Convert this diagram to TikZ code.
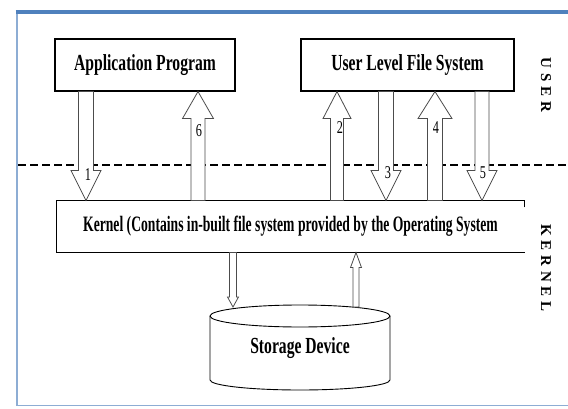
\documentclass[tikz,border=0pt]{standalone}
\usepackage{fontspec}
\setmainfont{Liberation Serif}
\newfontfamily\narrowfont[FakeStretch=0.68]{Liberation Serif}
\newfontfamily\kernfont[FakeStretch=0.62]{Liberation Serif}
\newfontfamily\spacedfont[LetterSpace=32]{Liberation Serif}
\usetikzlibrary{calc}
\definecolor{frameblue}{RGB}{79,129,189}

\begin{document}
\begin{tikzpicture}[
  x=1pt, y=1pt,
  boxline/.style={draw, line width=1.1pt},
  box/.style={boxline, rectangle, minimum height=52pt, font=\narrowfont\bfseries\fontsize{23}{26}\selectfont},
  arrline/.style={draw=black!70, line width=0.8pt, fill=white},
  fatdown/.style n args={3}{arrline, to path={let \p1=(\tikztostart), \p2=(\tikztotarget) in
    (\x1-#1pt,\y1) -- (\x1-#1pt,\y2+#3pt) -- (\x1-#2pt,\y2+#3pt) -- (\x1,\y2)
    -- (\x1+#2pt,\y2+#3pt) -- (\x1+#1pt,\y2+#3pt) -- (\x1+#1pt,\y1) -- cycle}},
  fatup/.style n args={3}{arrline, to path={let \p1=(\tikztostart), \p2=(\tikztotarget) in
    (\x1-#1pt,\y1) -- (\x1-#1pt,\y2-#3pt) -- (\x1-#2pt,\y2-#3pt) -- (\x1,\y2)
    -- (\x1+#2pt,\y2-#3pt) -- (\x1+#1pt,\y2-#3pt) -- (\x1+#1pt,\y1) -- cycle}},
  num/.style={font=\narrowfont\fontsize{18}{20}\selectfont, inner sep=0pt},
  side/.style={font=\spacedfont\bfseries\fontsize{15}{17}\selectfont, rotate=-90, inner sep=0pt}
]
\useasboundingbox (0,0) rectangle (568,408);

% frame
\draw[frameblue!65, line width=1.8pt] (17,396) -- (17,2.5) -- (570,2.5);
\draw[frameblue, line width=3.5pt] (15.5,396) -- (570,396);

% user / kernel separation
\draw[line width=1.5pt, dash pattern=on 8pt off 4pt] (18,243) -- (568,243);

\node[box, minimum width=180pt] (app) at (145,343) {Application Program};
\node[box, minimum width=213pt] (ulfs) at (407.5,343) {User Level File System};
\node[minimum width=467pt, minimum height=51pt, outer sep=0.55pt,
  font=\kernfont\bfseries\fontsize{22}{26}\selectfont] (kern) at (290.5,181.5)
  {Kernel (Contains in-built file system provided by the Operating System};
\draw[boxline] ($(kern.north east)+(0,-7)$) -- (kern.north east) -- (kern.north west)
  -- (kern.south west) -- (kern.south east);

% storage device
\node[font=\narrowfont\bfseries\fontsize{23}{26}\selectfont] (store) at (300,60) {Storage Device};
\draw[boxline, line width=0.9pt] (210,92) -- (210,28) arc[start angle=180, end angle=360, x radius=90pt, y radius=10pt] -- (390,92);
\draw[boxline, line width=0.9pt] (300,92) ellipse[x radius=90pt, y radius=11pt];
\coordinate (disktop) at (300,101);

\coordinate (a1) at (86,0);
\coordinate (a6) at (198,0);
\coordinate (a2) at (337,0);
\coordinate (a3) at (386,0);
\coordinate (a4) at (435,0);
\coordinate (a5) at (482,0);
\coordinate (d1) at (233,0);
\coordinate (d2) at (356,0);

\draw[fatdown={7.5}{15}{30}] (app.south -| a1) to (kern.north -| a1);
\draw[fatup={7}{15.5}{27}] (kern.north -| a6) to (app.south -| a6);
\draw[fatup={6.5}{14}{27}] (kern.north -| a2) to (ulfs.south -| a2);
\draw[fatdown={7.5}{15}{30}] (ulfs.south -| a3) to (kern.north -| a3);
\draw[fatup={7.5}{17}{27}] (kern.north -| a4) to (ulfs.south -| a4);
\draw[fatdown={7}{15}{30}] (ulfs.south -| a5) to (kern.north -| a5);
\draw[fatdown={3.5}{5.5}{10}] (kern.south -| d1) to (disktop -| d1);
\draw[fatup={3}{5.5}{15}] (disktop -| d2) to (kern.south -| d2);

\node[num] (n1) at (88,233) {1};
\node[num] (n6) at (199,277) {6};
\node[num] (n2) at (340,280) {2};
\node[num] (n3) at (388,235) {3};
\node[num] (n4) at (436,280) {4};
\node[num] (n5) at (483,235) {5};

\node[side] (userlbl) at (546,323) {USER};
\node[side] (kernlbl) at (546,140) {KERNEL};
\end{tikzpicture}
\end{document}
